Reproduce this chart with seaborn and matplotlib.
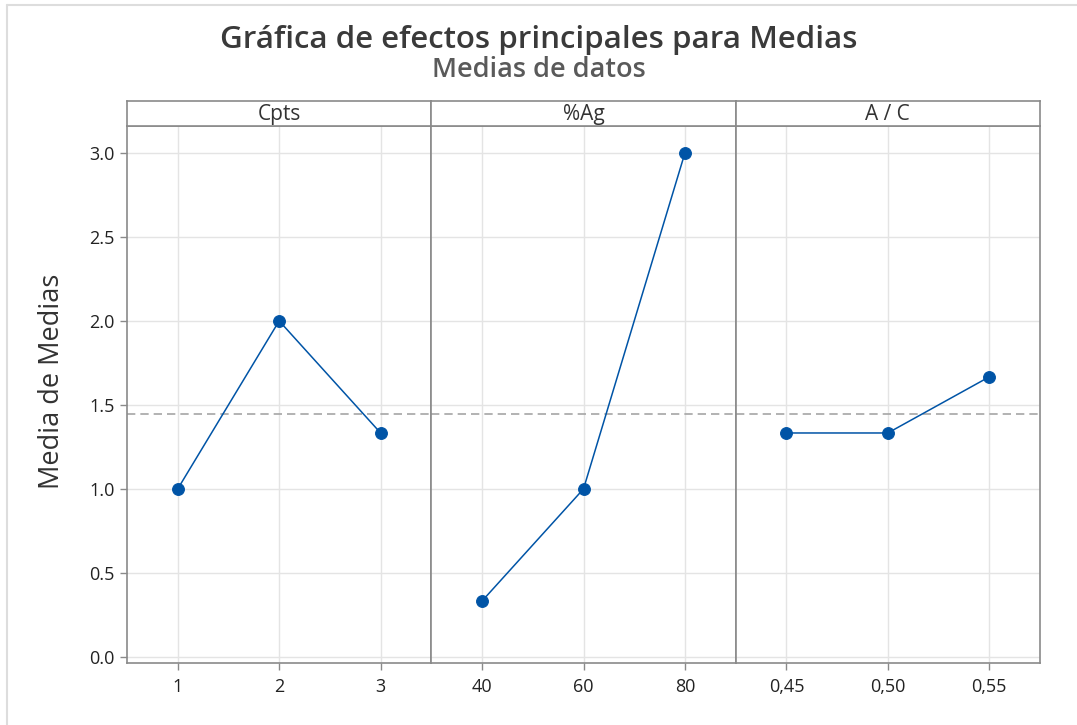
import matplotlib
matplotlib.use("Agg")
import matplotlib.pyplot as plt
import seaborn as sns
import pandas as pd
from matplotlib.lines import Line2D

# ---- data ----
factors = ["Cpts", "%Ag", "A / C"]
cpts_levels = ["1", "2", "3"]
cpts_means = [1.0, 2.0, 1.333]
ag_levels = ["40", "60", "80"]
ag_means = [0.333, 1.0, 3.0]
ac_levels = ["0,45", "0,50", "0,55"]
ac_means = [1.333, 1.333, 1.667]
grand_mean = 1.444
y_ticks = [0.0, 0.5, 1.0, 1.5, 2.0, 2.5, 3.0]

levels_all = [cpts_levels, ag_levels, ac_levels]
means_all = [cpts_means, ag_means, ac_means]

sns.set_style("white")
plt.rcParams["font.family"] = ["Open Sans", "DejaVu Sans"]

W, H = 1077, 725
fig = plt.figure(figsize=(W / 100, H / 100), dpi=100)
fig.patch.set_facecolor("white")

blue = "#0054A6"
spine_c = "#8a8a8a"
grid_c = "#e4e4e4"
text_c = "#222222"

left_px, right_px = 127, 1040
bottom_px, top_px, strip_top_px = 663, 126, 101
pw = (right_px - left_px) / 3

axes = []
for i, (fac, lv, mv) in enumerate(zip(factors, levels_all, means_all)):
    x0 = (left_px + i * pw) / W
    ax = fig.add_axes([x0, 1 - bottom_px / H, pw / W, (bottom_px - top_px) / H])
    df = pd.DataFrame({"level": lv, "pos": range(len(lv)), "mean": mv})
    ax.grid(True, color=grid_c, linewidth=1, zorder=0)
    ax.set_axisbelow(True)
    ax.axhline(grand_mean, color="#a6a6a6", linestyle=(0, (5, 3)), linewidth=1.2, zorder=1)
    sns.lineplot(data=df, x="pos", y="mean", ax=ax, color=blue, linewidth=1.1,
                 marker="o", markersize=8.5, markeredgecolor=blue, zorder=3)
    ax.set_xlim(-0.5, len(lv) - 0.5)
    ax.set_ylim(-0.036, 3.16)
    ax.set_xticks(range(len(lv)))
    ax.set_xticklabels(lv)
    ax.set_yticks(y_ticks)
    ax.set_xlabel("")
    ax.set_ylabel("")
    for s in ax.spines.values():
        s.set_color(spine_c)
        s.set_linewidth(1.2)
    ax.tick_params(axis="both", colors=spine_c, labelcolor=text_c, labelsize=13,
                   length=5, width=1, direction="out")
    ax.tick_params(axis="x", bottom=True, pad=6)
    if i == 0:
        ax.set_yticklabels([f"{v:.1f}" for v in y_ticks])
        ax.tick_params(axis="y", left=True, pad=4)
    else:
        ax.tick_params(axis="y", left=False, labelleft=False)
    # strip header
    sax = fig.add_axes([x0, 1 - top_px / H, pw / W, (top_px - strip_top_px) / H])
    sax.set_xticks([])
    sax.set_yticks([])
    sax.set_facecolor("white")
    for s in sax.spines.values():
        s.set_color(spine_c)
        s.set_linewidth(1.2)
    sax.text(0.5, 0.45, fac, ha="center", va="center", fontsize=15, color="#333333",
             transform=sax.transAxes)
    axes.append(ax)

fig.text(0.5, 1 - 40 / H, "Gráfica de efectos principales para Medias", ha="center",
         va="center", fontsize=22.5, fontweight="semibold", color="#3a3a3a")
fig.text(0.5, 1 - 70 / H, "Medias de datos", ha="center", va="center",
         fontsize=19.5, fontweight="semibold", color="#5a5a5a")
fig.text(52 / W, 1 - 381 / H, "Media de Medias", rotation=90, ha="center", va="center",
         fontsize=19.5, color="#333333")

# light outer frame (top & left edges)
fig.add_artist(Line2D([7 / W, 7 / W], [0, 1 - 5 / H], transform=fig.transFigure,
                      color="#dddddd", linewidth=1.5))
fig.add_artist(Line2D([7 / W, 1], [1 - 5 / H, 1 - 5 / H], transform=fig.transFigure,
                      color="#dddddd", linewidth=1.5))

fig.savefig("out.png", dpi=100, facecolor="white")
